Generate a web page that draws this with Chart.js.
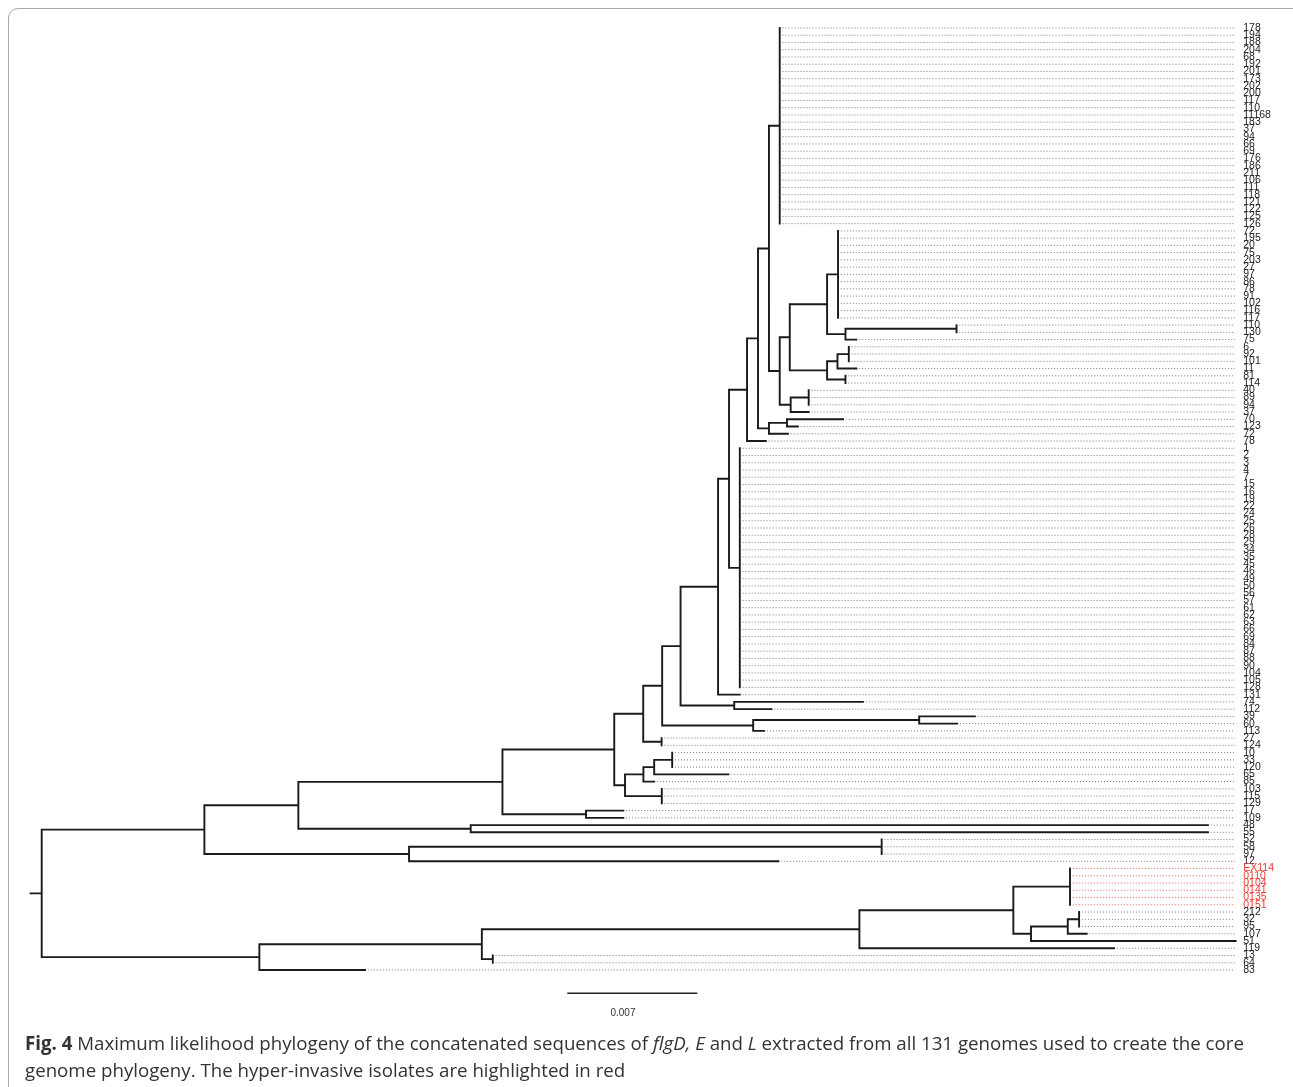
<!DOCTYPE html>
<html>
<head>
<meta charset="utf-8">
<script src="https://cdn.jsdelivr.net/npm/chart.js@4.4.1/dist/chart.umd.min.js"></script>
<style>
  html, body { margin: 0; padding: 0; background: #fff; overflow: hidden; }
  #marco { position: absolute; left: 8px; top: 8px; width: 1300px; height: 1100px;
           border: 1px solid #a8a8a8; border-radius: 10px; }
  #arbol { position: absolute; left: 0; top: 0; }
  #pie { position: absolute; left: 25px; top: 1029px; width: 1255px; font-family: "Open Sans", sans-serif;
         font-size: 18.7px; line-height: 27px; color: #333; }
</style>
</head>
<body>
<div id="marco"></div>
<canvas id="arbol" width="1293" height="1030"></canvas>
<div id="pie"><b>Fig. 4</b> Maximum likelihood phylogeny of the concatenated sequences of <i>flgD, E</i> and <i>L</i> extracted from all 131 genomes used to create the core genome phylogeny. The hyper-invasive isolates are highlighted in red</div>

<script>
// nombres de las puntas, de arriba a abajo
const etiquetas = [
  '178','194','188','204','68','192','201','173','202','200','117','110','11168','183','37','94','66','69','176','186',
  '211','106','111','118','121','122','125','126',
  '72','195','20','75','203','27','97','86','78','91','102','116','117','110','130','75','6','92','101','11','81','114',
  '40','89','94','37','70','123','72','78',
  '1','2','3','4','7','15','16','19','22','24','25','26','28','29','34','35','45','46','49','50','56','57','61','62',
  '63','66','69','84','87','88','90','104','105','128','131',
  '74','112','39','60','113','27','124','10','33','120','65','85','103','115','129','17','109',
  '48','55','52','58','97','12',
  'EX114','0110','0104','0141','0135','0151',
  '212','32','95','107','51','119','13','64','83'
];

// puntas resaltadas (hiper-invasivas)
const puntasRojas = [116, 117, 118, 119, 120, 121];

// arbol en Newick; las hojas son indices de "etiquetas", longitudes en 1e-3 sust./sitio
const newick = `
((((((((((((((0,1,2,3,4,5,6,7,8,9,10,11,12,13,14,15,16,17,18,19,20,21,22,23,24,25,26,27):0.58,
 ((((28,29,30,31,32,33,34,35,36,37,38,39,40):0.59,((41,42):5.98,43:0.59):0.99):2.01,
   (((44,45,46):0.61,47:1.02):0.56,(48,49):0.99):2.01):0.54,
  ((50,51,52):0.97,53:0.97):0.59):0.58):0.59,
 ((54:3.02,55:0.59):0.97,56:1.02):0.59):0.59,
 57:1.01):0.97,
 (58,59,60,61,62,63,64,65,66,67,68,69,70,71,72,73,74,75,76,77,78,79,80,81,82,83,84,85,86,87,88,89,90,91):0.58):0.59,
 92:1.17):2.02,
 (93:6.93,94:2.01):2.89):0.99,
 ((95:3.00,96:2.05):8.94,97:0.59):4.90):1.02,
 (98,99):0.99):1.56,
 ((((100,101,102):0.97,103:4.00):0.58,104:0.58):0.99,(105,106,107):1.98):0.58):6.02,
 (108:2.01,109:2.01):4.50):10.99,
 (110:39.70,111:39.70):9.28):5.06,
 ((112,113,114):25.45,115:19.89):11.02):8.76,
 ((((( 116,117,118,119,120,121):3.05,(((122,123,124):0.61,125:1.02):1.98,126:11.02):0.95):8.29,
   127:13.71):20.33,
  (128,129):0.59):11.98,
 130:5.69):11.72):0.6;`;

// barra de escala
const escalaInicio = 28.3;
const escalaLargo = 7;
const escalaTexto = '0.007';

// fin de las lineas punteadas y posicion de los nombres
const finPunteado = 64.25;
const xEtiqueta = 64.7;

function leerNewick(s) {
    s = s.replace(/\s+/g, '');
    let i = 0;
    function nodo() {
        const n = { hijos: [], nombre: '', largo: 0 };
        if (s[i] === '(') {
            i++;
            n.hijos.push(nodo());
            while (s[i] === ',') { i++; n.hijos.push(nodo()); }
            i++;
        }
        let nombre = '';
        while (i < s.length && !',():;'.includes(s[i])) nombre += s[i++];
        n.nombre = nombre;
        if (s[i] === ':') {
            i++;
            let num = '';
            while (i < s.length && !',();'.includes(s[i])) num += s[i++];
            n.largo = parseFloat(num);
        }
        return n;
    }
    return nodo();
}

function ubicar(n, x) {
    n.x = x;
    if (n.hijos.length === 0) {
        n.y = parseInt(n.nombre);
    } else {
        n.hijos.forEach(h => ubicar(h, x + h.largo));
        n.y = (n.hijos[0].y + n.hijos[n.hijos.length - 1].y) / 2;
    }
}

const raiz = leerNewick(newick);
ubicar(raiz, 0);

const ramas = [];
const puntos = [];
const puntosRojos = [];
const corte = { x: null, y: null };

ramas.push({ x: -raiz.largo, y: raiz.y }, { x: 0, y: raiz.y }, corte);

function recorrer(n) {
    if (n.hijos.length) {
        const a = n.hijos[0], b = n.hijos[n.hijos.length - 1];
        ramas.push({ x: n.x, y: a.y }, { x: n.x, y: b.y }, corte);
        for (const h of n.hijos) {
            if (h.x > n.x) ramas.push({ x: n.x, y: h.y }, { x: h.x, y: h.y }, corte);
            recorrer(h);
        }
    } else if (n.x < finPunteado) {
        const lista = puntasRojas.includes(n.y) ? puntosRojos : puntos;
        lista.push({ x: n.x + 0.15, y: n.y }, { x: finPunteado, y: n.y }, corte);
    }
}
recorrer(raiz);

const pluginEtiquetas = {
    id: 'etiquetas',
    afterDatasetsDraw(chart) {
        const ctx = chart.ctx;
        const sx = chart.scales.x, sy = chart.scales.y;
        ctx.save();
        ctx.font = '10.5px "Liberation Sans", Arial, sans-serif';
        ctx.textBaseline = 'middle';
        ctx.textAlign = 'left';
        etiquetas.forEach((txt, i) => {
            ctx.fillStyle = puntasRojas.includes(i) ? '#f03a32' : '#222';
            ctx.fillText(txt, sx.getPixelForValue(xEtiqueta), sy.getPixelForValue(i));
        });
        ctx.fillStyle = '#333';
        ctx.textAlign = 'center';
        ctx.font = '10px "Liberation Sans", Arial, sans-serif';
        ctx.fillText(escalaTexto, sx.getPixelForValue(escalaInicio + escalaLargo / 2 - 0.5), sy.getPixelForValue(135.9));
        ctx.restore();
    }
};

new Chart(document.getElementById('arbol').getContext('2d'), {
    type: 'scatter',
    data: {
        datasets: [
            { label: 'ramas', data: ramas, showLine: true, borderColor: '#1a1a1a', borderWidth: 1.9,
              borderCapStyle: 'square', pointRadius: 0, spanGaps: false },
            { label: 'puntas', data: puntos, showLine: true, borderColor: '#777', borderWidth: 1,
              borderDash: [1, 2], pointRadius: 0, spanGaps: false },
            { label: 'puntas rojas', data: puntosRojos, showLine: true, borderColor: '#f05a55', borderWidth: 1,
              borderDash: [1, 2], pointRadius: 0, spanGaps: false },
            { label: 'escala', data: [{ x: escalaInicio, y: 133.2 }, { x: escalaInicio + escalaLargo, y: 133.2 }],
              showLine: true, borderColor: '#222', borderWidth: 1.5, pointRadius: 0 }
        ]
    },
    options: {
        responsive: false,
        animation: false,
        events: [],
        layout: { padding: 0 },
        plugins: { legend: { display: false }, tooltip: { enabled: false } },
        scales: {
            x: { type: 'linear', display: false, min: -2.2454, max: 67.378 },
            y: { type: 'linear', display: false, min: -3.864, max: 138.28, reverse: true }
        }
    },
    plugins: [pluginEtiquetas]
});
</script>
</body>
</html>
